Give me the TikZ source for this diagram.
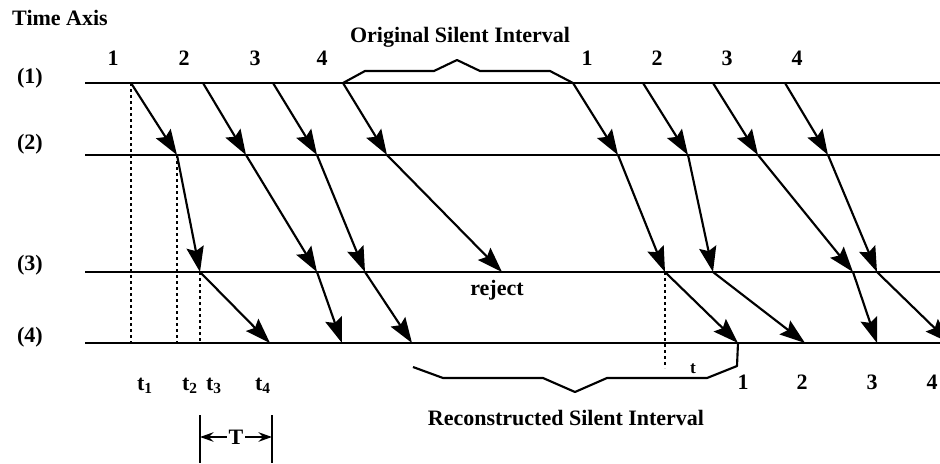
\documentclass[tikz,border=0pt]{standalone}
\usepackage{fontspec}
\setmainfont{Liberation Serif}
\usetikzlibrary{arrows.meta}

\tikzset{every picture/.style={line width=1.6pt}}
\tikzset{
  pkt/.style={-{Stealth[length=19pt,width=13pt,inset=3pt]}},
  guide/.style={line width=1.6pt,dash pattern={on 2.5pt off 2pt}},
  lbl/.style={inner sep=0.75pt,font=\fontsize{16.5}{19}\selectfont\bfseries},
  sml/.style={inner sep=0.75pt,font=\fontsize{13}{15}\selectfont\bfseries}
}

\begin{document}
\begin{tikzpicture}[x=0.75pt,y=0.75pt,yscale=-1,xscale=1]
\path[use as bounding box] (0,0) rectangle (940,464);

%Axis ends
\coordinate (ax1s) at (85,83);  \coordinate (ax1e) at (940,83);
\coordinate (ax2s) at (85,155); \coordinate (ax2e) at (940,155);
\coordinate (ax3s) at (85,272); \coordinate (ax3e) at (940,272);
\coordinate (ax4s) at (85,343); \coordinate (ax4e) at (940,343);

%Packet crossings, first talkspurt
\coordinate (L1a) at (131,83); \coordinate (L1b) at (177,155); \coordinate (L1c) at (200,272); \coordinate (L1d) at (270,343);
\coordinate (L2a) at (203,83); \coordinate (L2b) at (246,155); \coordinate (L2c) at (317,272); \coordinate (L2d) at (342,343);
\coordinate (L3a) at (273,83); \coordinate (L3b) at (317,155); \coordinate (L3c) at (365,272); \coordinate (L3d) at (412,343);
\coordinate (L4a) at (343,83); \coordinate (L4b) at (387,155); \coordinate (L4c) at (502,272);
%Packet crossings, second talkspurt
\coordinate (R1a) at (573,83); \coordinate (R1b) at (618,155); \coordinate (R1c) at (665,272); \coordinate (R1d) at (738,343);
\coordinate (R2a) at (643,83); \coordinate (R2b) at (688,155); \coordinate (R2c) at (713,272); \coordinate (R2d) at (805,343);
\coordinate (R3a) at (713,83); \coordinate (R3b) at (758,155); \coordinate (R3c) at (853,272); \coordinate (R3d) at (877,343);
\coordinate (R4a) at (785,83); \coordinate (R4b) at (828,155); \coordinate (R4c) at (877,272); \coordinate (R4d) at (950,343);

%Straight Lines
\draw (ax1s) -- (ax1e);
\draw (ax2s) -- (ax2e);
\draw (ax3s) -- (ax3e);
\draw (ax4s) -- (ax4e);

%Dotted drop lines
\draw[guide] (L1a) -- (L1a |- ax4s);
\draw[guide] (L1b) -- (L1b |- ax4s);
\draw[guide] (L1c) -- (L1c |- ax4s);
\coordinate (drop) at (665,368);
\draw[guide] (R1c) -- (drop);

%Packet arrows
\draw[pkt] (L1a) -- (L1b); \draw[pkt] (L1b) -- (L1c); \draw[pkt] (L1c) -- (L1d);
\draw[pkt] (L2a) -- (L2b); \draw[pkt] (L2b) -- (L2c); \draw[pkt] (L2c) -- (L2d);
\draw[pkt] (L3a) -- (L3b); \draw[pkt] (L3b) -- (L3c); \draw[pkt] (L3c) -- (L3d);
\draw[pkt] (L4a) -- (L4b); \draw[pkt] (L4b) -- (L4c);
\draw[pkt] (R1a) -- (R1b); \draw[pkt] (R1b) -- (R1c); \draw[pkt] (R1c) -- (R1d);
\draw[pkt] (R2a) -- (R2b); \draw[pkt] (R2b) -- (R2c); \draw[pkt] (R2c) -- (R2d);
\draw[pkt] (R3a) -- (R3b); \draw[pkt] (R3b) -- (R3c); \draw[pkt] (R3c) -- (R3d);
\draw[pkt] (R4a) -- (R4b); \draw[pkt] (R4b) -- (R4c); \draw[pkt] (R4c) -- (R4d);

%Brace over the original gap
\draw[line join=round] (L4a) -- (365,71) -- (434,71) -- (457,60) -- (480,71) -- (550,71) -- (R1a);
%Brace under the rebuilt gap
\coordinate (rb) at (413,367);
\draw[line join=round] (rb) -- (443,378) -- (543,378) -- (575,392) -- (607,378) -- (707,378) -- (737,366) -- (R1d);

%T span
\coordinate (Tl1) at (200,415); \coordinate (Tl2) at (200,463);
\coordinate (Tr1) at (272,415); \coordinate (Tr2) at (272,463);
\draw (Tl1) -- (Tl2);
\draw (Tr1) -- (Tr2);
\node[lbl] (T) at (236,437) {T};
\draw[-{Stealth[length=10pt,width=7pt]}] (T.west) -- (Tl1 |- T);
\draw[-{Stealth[length=10pt,width=7pt]}] (T.east) -- (Tr1 |- T);

% Text Node
\node[lbl] (axis) at (60,18) {Time Axis};
% Text Node
\node[lbl] (ln1) at (30,78) {(1)};
\node[lbl] (ln2) at (30,144) {(2)};
\node[lbl] (ln3) at (30,265) {(3)};
\node[lbl] (ln4) at (30,337) {(4)};
% Text Node
\node[lbl] (n1) at (113,58) {1};
\node[lbl] (n2) at (184,58) {2};
\node[lbl] (n3) at (255,58) {3};
\node[lbl] (n4) at (322,58) {4};
\node[lbl] (m1) at (587,58) {1};
\node[lbl] (m2) at (657,58) {2};
\node[lbl] (m3) at (727,58) {3};
\node[lbl] (m4) at (797,58) {4};
% Text Node
\node[lbl] (orig) at (460,37) {Original Silent Interval};
% Text Node
\node[lbl] (rej) at (497,290) {reject};
% Text Node
\node[lbl] (recon) at (566,418) {Reconstructed Silent Interval};
% Text Node
\node[lbl] (k1) at (743,382) {1};
\node[lbl] (k2) at (802,382) {2};
\node[lbl] (k3) at (872,382) {3};
\node[lbl] (k4) at (932,382) {4};
% Text Node
\node[sml] (tt) at (693,369) {t};
% Text Node
\node[lbl] (t1) at (145,386) {t\textsubscript{1}};
\node[lbl] (t2) at (190,386) {t\textsubscript{2}};
\node[lbl] (t3) at (214,386) {t\textsubscript{3}};
\node[lbl] (t4) at (263,386) {t\textsubscript{4}};
\end{tikzpicture}
\end{document}
